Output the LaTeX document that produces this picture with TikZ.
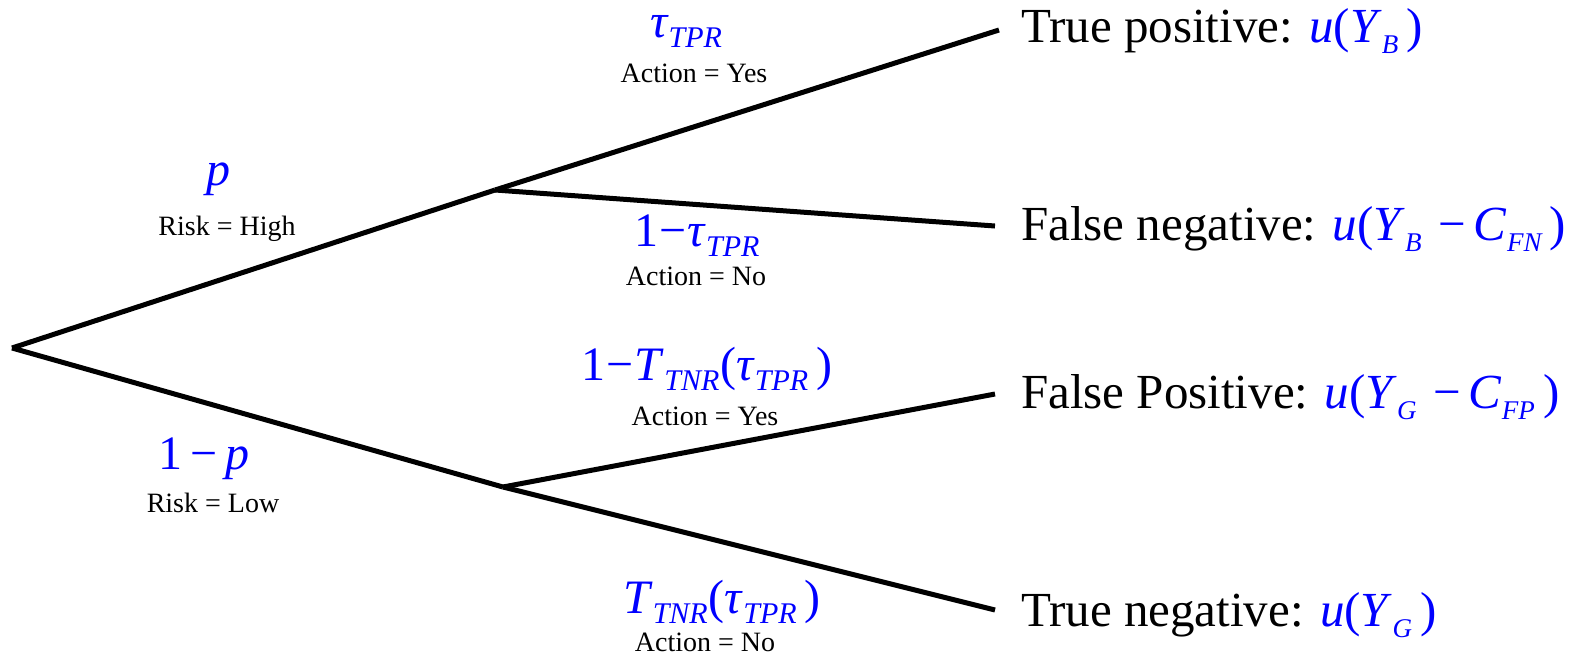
\documentclass[tikz,border=0pt]{standalone}
\usepackage{fontspec}
\setmainfont{Liberation Serif}
\newcommand\leafsub[1]{\raisebox{-11pt}{\fontsize{27}{27}\selectfont\itshape #1}}
\newcommand\labsub[1]{\raisebox{-10pt}{\fontsize{30}{30}\selectfont\itshape #1}}
\newcommand\mi[1]{\textit{#1}}
\begin{document}
\begin{tikzpicture}[x=1pt,y=-1pt,
  branch/.style={line width=5pt, black},
  leaf/.style={anchor=base west, inner sep=0pt, font=\fontsize{49}{52}\selectfont},
  prob/.style={anchor=base, inner sep=0pt, text=blue, font=\fontsize{48}{52}\selectfont},
  cond/.style={anchor=base, inner sep=0pt, text height=19pt, text depth=1pt, font=\fontsize{28}{30}\selectfont}]
\useasboundingbox (0,0) rectangle (1579,657);
\coordinate (root) at (12,348);
\coordinate (hi) at (495,190);
\coordinate (lo) at (503,487);
\coordinate (tpE) at (999,30);
\coordinate (fnE) at (995,226);
\coordinate (fpE) at (995,394);
\coordinate (tnE) at (995,610);
\draw[branch] (root) -- (hi);
\draw[branch] (root) -- (lo);
\draw[branch] (hi) -- (tpE);
\draw[branch] (hi) -- (fnE);
\draw[branch] (lo) -- (fpE);
\draw[branch] (lo) -- (tnE);
\node[leaf] (tp) at (1021,42) {True positive: \textcolor{blue}{\mi{u}(\mi{Y}\leafsub{B}\,)}};
\node[leaf] (fn) at (1021,240) {False negative: \textcolor{blue}{\mi{u}(\mi{Y}\leafsub{B}\,\,−\,\mi{C}\leafsub{FN}\,)}};
\node[leaf] (fp) at (1021,408) {False Positive: \textcolor{blue}{\mi{u}(\mi{Y}\leafsub{G}\,\,−\,\mi{C}\leafsub{FP}\,)}};
\node[leaf] (tn) at (1021,626) {True negative: \textcolor{blue}{\mi{u}(\mi{Y}\leafsub{G}\,)}};
\node[prob] (pH) at (218,185) {\mi{p}};
\node[cond] (cH) at (227,235) {Risk = High};
\node[prob] (pL) at (204,469) {1\,−\,\mi{p}};
\node[cond] (cL) at (213,512) {Risk = Low};
\node[prob] (pTP) at (686,37) {\mi{τ}\labsub{TPR}};
\node[cond] (cTP) at (694,82) {Action = Yes};
\node[prob] (pFN) at (697,246) {1\kern1pt−\kern1pt\mi{τ}\labsub{TPR}};
\node[cond] (cFN) at (696,285) {Action = No};
\node[prob] (pFP) at (707,380) {1\kern1pt−\kern1pt\mi{T}\labsub{TNR}\kern1pt(\mi{τ}\labsub{TPR}\,)};
\node[cond] (cFP) at (705,425) {Action = Yes};
\node[prob] (pTN) at (722,613) {\mi{T}\labsub{TNR}\kern1pt(\mi{τ}\labsub{TPR}\,)};
\node[cond] (cTN) at (705,651) {Action = No};
\end{tikzpicture}
\end{document}
